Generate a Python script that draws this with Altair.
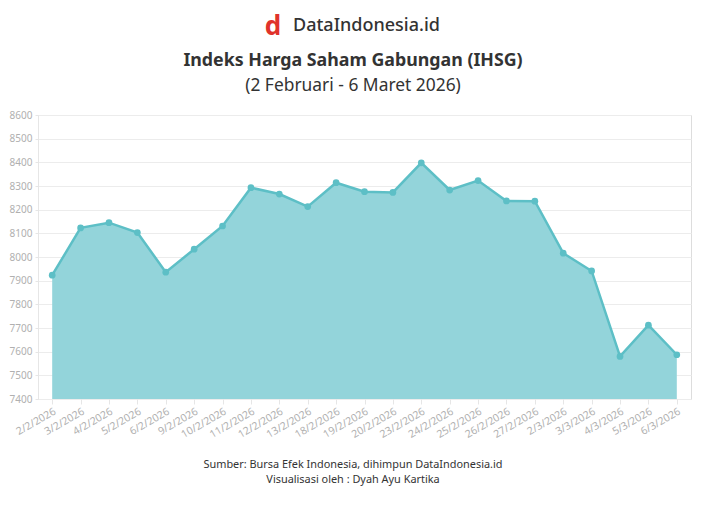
import altair as alt
import pandas as pd

dates = ["2/2/2026", "3/2/2026", "4/2/2026", "5/2/2026", "6/2/2026", "9/2/2026",
         "10/2/2026", "11/2/2026", "12/2/2026", "13/2/2026", "18/2/2026", "19/2/2026",
         "20/2/2026", "23/2/2026", "24/2/2026", "25/2/2026", "26/2/2026", "27/2/2026",
         "2/3/2026", "3/3/2026", "4/3/2026", "5/3/2026", "6/3/2026"]
ihsg = [7923, 8123, 8145, 8103, 7936, 8033, 8131, 8293, 8266, 8213, 8314, 8276,
        8273, 8398, 8283, 8323, 8237, 8236, 8016, 7941, 7580, 7712, 7587]
y_ticks = [7400, 7500, 7600, 7700, 7800, 7900, 8000, 8100, 8200, 8300, 8400, 8500, 8600]

df = pd.DataFrame({"tanggal": dates, "ihsg": ihsg})

FONT = "Noto Sans"
LINE = "#5dbfc6"
FILL = "#93d4da"

x_enc = alt.X("tanggal:O", sort=dates, title=None,
              scale=alt.Scale(type="point", padding=0.5),
              axis=alt.Axis(labelAngle=-30, labelAlign="right", labelBaseline="top",
                            labelColor="#b0b0b0", labelFont=FONT, labelFontSize=10.5,
                            labelPadding=2, tickColor="#e6e6e6", tickSize=5,
                            domain=False, grid=False))
y_enc = alt.Y("ihsg:Q", title=None,
              scale=alt.Scale(domain=[7400, 8600], zero=False, nice=False),
              axis=alt.Axis(values=y_ticks, format="d", labelColor="#b0b0b0", labelFont=FONT,
                            labelFontSize=10, labelPadding=3, tickColor="#e6e6e6",
                            tickSize=3, gridColor="#ececec", domainColor="#e6e6e6"))

area = alt.Chart(df).mark_area(color=FILL, opacity=1).encode(
    x=x_enc, y=y_enc, y2=alt.datum(7400))
line = alt.Chart(df).mark_line(color=LINE, strokeWidth=2.5).encode(x=x_enc, y=y_enc)
pts = alt.Chart(df).mark_point(filled=True, color=LINE, size=45, opacity=1).encode(x=x_enc, y=y_enc)

cx = 315

def txt(text, y, size, weight="normal", color="#333333", dx=0, font=FONT, align="center"):
    return alt.Chart(pd.DataFrame({"t": [text]})).mark_text(
        font=font, fontSize=size, fontWeight=weight, color=color, align=align, baseline="middle"
    ).encode(text="t:N", x=alt.value(cx + dx), y=alt.value(y))

logo_d = alt.Chart(pd.DataFrame({"t": ["d"]})).mark_text(
    font=FONT, fontSize=26, fontWeight="bold", color="#e0322b", baseline="middle"
).encode(text="t:N", x=alt.value(235), y=alt.value(-88))
logo = txt("DataIndonesia.id", -89, 18, weight=500, color="#333333", dx=-60, align="left")
title = txt("Indeks Harga Saham Gabungan (IHSG)", -54, 17.8, weight="bold", color="#333333")
subtitle = txt("(2 Februari - 6 Maret 2026)", -29, 17.4, color="#333333")
foot1 = txt("Sumber: Bursa Efek Indonesia, dihimpun DataIndonesia.id", 350, 10.9, color="#333333")
foot2 = txt("Visualisasi oleh : Dyah Ayu Kartika", 365, 10.9, color="#333333")

chart = alt.layer(area, line, pts, logo_d, logo, title, subtitle, foot1, foot2).properties(
    width=653, height=284,
    autosize=alt.AutoSizeParams(type="none"),
    padding={"left": 30, "top": 107, "right": 6, "bottom": 100},
).configure_view(stroke=None).configure(background="white")

chart.save("out.html", embed_options={"renderer": "svg", "actions": False})
